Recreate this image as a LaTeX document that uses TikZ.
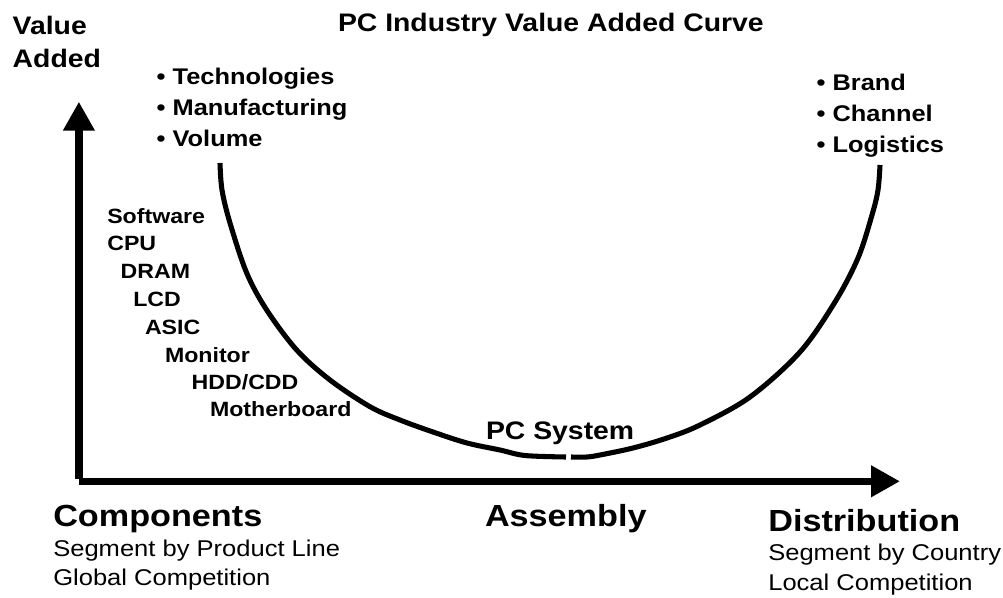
\documentclass[tikz,border=0pt]{standalone}
\usepackage{fontspec}
\setmainfont{Liberation Sans}
\usetikzlibrary{arrows.meta}
\begin{document}
\begin{tikzpicture}[x=0.75pt,y=-0.75pt,
  txt/.style={anchor=base west, inner sep=0pt, outer sep=0pt, xscale=1.12},
  big/.style={txt, font=\fontsize{19}{22}\selectfont\bfseries},
  bul/.style={txt, font=\fontsize{17}{20}\selectfont\bfseries},
  comp/.style={txt, font=\fontsize{15.5}{18}\selectfont\bfseries},
  stage/.style={txt, font=\fontsize{22.9}{27}\selectfont\bfseries},
  sub/.style={txt, font=\fontsize{17.1}{20}\selectfont},
  axis/.style={line width=5.6pt, -{Triangle[width=22.5pt,length=21.75pt]}},
  curve/.style={line width=3.8pt, line join=round}
]
\useasboundingbox (0,0) rectangle (1003,598);

% axes
\coordinate (ybot) at (78.9,479.3);
\coordinate (ytip) at (78.9,101.7);
\coordinate (xleft) at (79.3,481.3);
\coordinate (xtip) at (900,481.3);
\draw[axis] (ybot) -- (ytip);
\draw[axis] (xleft) -- (xtip);

% curve
\draw[curve] plot[smooth, tension=0.55] coordinates {(220,163) (222,190) (230,223) (246.7,273) (266.7,310) (296.7,350) (330,380) (370,406.7) (400,420) (433,432) (467,443) (500,450) (525,455.5) (566,457)};
\draw[curve] plot[smooth, tension=0.55] coordinates {(571,457) (587,457) (600,455) (633,448) (667,438) (700,425) (750,397) (800,352) (835,302) (858,258) (872,215) (878,190) (880,165)};

% texts
\node[big] (va1) at (12.7,35) {Value};
\node[big] (va2) at (12.7,68) {Added};
\node[big] (title) at (338,32) {PC Industry Value Added Curve};

\node[bul] (t1) at (156.7,85) {• Technologies};
\node[bul] (t2) at (156.7,116) {• Manufacturing};
\node[bul] (t3) at (156.7,147) {• Volume};

\node[bul] (b1) at (816.7,91) {• Brand};
\node[bul] (b2) at (816.7,122) {• Channel};
\node[bul] (b3) at (816.7,153) {• Logistics};

\node[comp] (c1) at (107.3,223.3) {Software};
\node[comp] (c2) at (107.3,251) {CPU};
\node[comp] (c3) at (120.7,278.3) {DRAM};
\node[comp] (c4) at (133.3,306.7) {LCD};
\node[comp] (c5) at (145,335) {ASIC};
\node[comp] (c6) at (165,362.7) {Monitor};
\node[comp] (c7) at (191.7,389.3) {HDD/CDD};
\node[comp] (c8) at (210,416.7) {Motherboard};

\node[big] (pcs) at (486,440) {PC System};

\node[stage] (s1) at (53.3,526.7) {Components};
\node[sub] (s1a) at (53.3,556) {Segment by Product Line};
\node[sub] (s1b) at (53.3,585) {Global Competition};

\node[stage] (s2) at (485,526.7) {Assembly};

\node[stage] (s3) at (768.3,531.7) {Distribution};
\node[sub] (s3a) at (768.3,560) {Segment by Country};
\node[sub] (s3b) at (768.3,590) {Local Competition};
\end{tikzpicture}
\end{document}
